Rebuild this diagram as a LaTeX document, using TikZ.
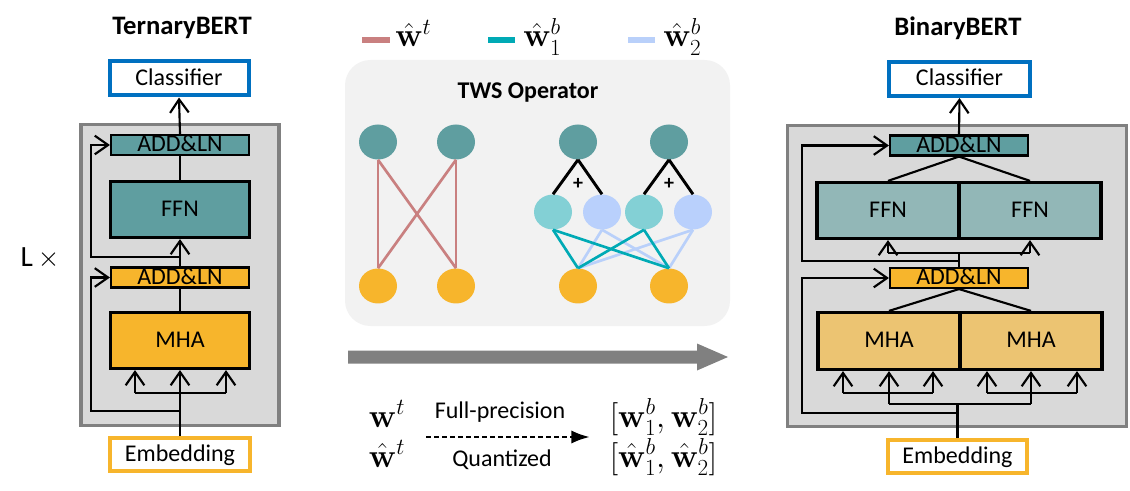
\documentclass[tikz,border=0pt]{standalone}
\usepackage[no-math]{fontspec}
\setmainfont{Carlito}
\usetikzlibrary{arrows.meta,shapes.geometric,calc}
\definecolor{tealA}{HTML}{5F9EA0}
\definecolor{tealB}{HTML}{92B7B7}
\definecolor{orngA}{HTML}{F7B52C}
\definecolor{orngB}{HTML}{ECC472}
\definecolor{boxgray}{HTML}{D9D9D9}
\definecolor{bordgray}{HTML}{808080}
\definecolor{panelgray}{HTML}{F2F2F2}
\definecolor{clsblue}{HTML}{0070C0}
\definecolor{pinkL}{HTML}{C98080}
\definecolor{tealL}{HTML}{00AAB5}
\definecolor{blueL}{HTML}{B9D0FA}
\definecolor{tealN}{HTML}{83D0D5}
\definecolor{blueN}{HTML}{B9D0FC}
\newcommand\myfont{\fontsize{18}{20}\selectfont}
\newcommand\mymath{\fontsize{24}{26}\selectfont}
\begin{document}
\begin{tikzpicture}[x=0.75pt,y=-0.75pt,
  txt/.style={inner sep=0pt, text height=12pt, text depth=2pt, font=\myfont},
  blk/.style={txt, draw=black},
  addbox/.style={blk, line width=1.6pt, minimum width=138*0.75pt, minimum height=20*0.75pt},
  bigbox/.style={blk, line width=2.4pt, minimum width=139*0.75pt, minimum height=56*0.75pt},
  halfbox/.style={blk, line width=2.4pt, minimum width=142*0.75pt, minimum height=57*0.75pt},
  clsbox/.style={txt, draw=clsblue, line width=3pt, fill=white, minimum width=139*0.75pt, minimum height=34*0.75pt},
  embbox/.style={txt, draw=orngA, line width=3pt, fill=white, minimum width=140*0.75pt, minimum height=33*0.75pt},
  graybox/.style={draw=bordgray, fill=boxgray, line width=2.4pt, minimum width=198*0.75pt, minimum height=301*0.75pt, inner sep=0pt},
  title/.style={font=\fontsize{20}{22}\selectfont\bfseries, inner sep=0pt},
  conn/.style={line width=1.6pt, draw=black},
  arr/.style={conn, -{Straight Barb[length=10pt,width=14pt,line width=1.6pt]}},
  dot/.style={ellipse, minimum width=38*0.75pt, minimum height=35*0.75pt, inner sep=0pt},
  mth/.style={font=\mymath, inner sep=0pt, text height=13pt, text depth=3pt},
  wline/.style={line width=2pt}
]
\useasboundingbox (0,0) rectangle (1130,491);

% ================= Left: TernaryBERT =================
\node[title] (titT) at (182,28) {TernaryBERT};
\node[graybox] (grayT) at (180,275) {};
\node[clsbox] (clsT) at (179,78.5) {Classifier};
\node[addbox, fill=tealA] (addT) at (180,145) {ADD\&LN};
\node[bigbox, fill=tealA] (ffnT) at (180,209.5) {FFN};
\node[addbox, fill=orngA] (addOT) at (180,277.5) {ADD\&LN};
\node[bigbox, fill=orngA] (mhaT) at (180,340.5) {MHA};
\node[embbox] (embT) at (180,454.5) {Embedding};
\node[font=\fontsize{22}{24}\selectfont, inner sep=0pt] (LT) at (40,258) {L\,$\times$};

\draw[arr] (addT.north) -- (clsT.south);
\draw[conn] (ffnT.north) -- (addT.south);
\draw[arr] (addOT.north) -- (ffnT.south);
\coordinate (rT1) at (180,257);
\draw[arr] (rT1) -- (91,257) |- (addT.west);
\draw[conn] (mhaT.north) -- (addOT.south);
\coordinate (rT2) at (180,411);
\draw[arr] (rT2) -- (91,411) |- (addOT.west);
\draw[arr] (embT.north) -- (mhaT.south);
\coordinate (qT1) at (135,393);
\coordinate (qT2) at (226,393);
\draw[conn] (qT1) -- (qT2);
\draw[arr] (qT1) -- (qT1 |- mhaT.south);
\draw[arr] (qT2) -- (qT2 |- mhaT.south);

% ================= Middle =================
\draw[pinkL, line width=3.8pt] (362,40) -- (390,40);
\node[mth, anchor=base west] (lgA) at (395,47) {$\hat{\mathbf{w}}^t$};
\draw[tealL, line width=3.8pt] (488,40) -- (515,40);
\node[mth, anchor=base west] (lgB) at (523,47) {$\hat{\mathbf{w}}_1^b$};
\draw[blueL, line width=3.8pt] (628,40) -- (655,40);
\node[mth, anchor=base west] (lgC) at (663,47) {$\hat{\mathbf{w}}_2^b$};

\fill[panelgray, rounded corners=19pt] (345,60) rectangle (730,326);
\node[font=\fontsize{18}{20}\selectfont\bfseries, inner sep=0pt] (tws) at (528,93) {TWS Operator};

\node[dot, fill=tealA] (lt1) at (378,142) {};
\node[dot, fill=tealA] (lt2) at (456,142) {};
\node[dot, fill=orngA] (lb1) at (378,286) {};
\node[dot, fill=orngA] (lb2) at (456,286) {};
\draw[pinkL, wline] (lt1.south) -- (lb1.north);
\draw[pinkL, wline] (lt1.south) -- (lb2.north);
\draw[pinkL, wline] (lt2.south) -- (lb1.north);
\draw[pinkL, wline] (lt2.south) -- (lb2.north);

\node[dot, fill=tealA] (rt1) at (578,142) {};
\node[dot, fill=tealA] (rt2) at (669,142) {};
\node[dot, fill=tealN] (rm1) at (553,212) {};
\node[dot, fill=blueN] (rm2) at (602,212) {};
\node[dot, fill=tealN] (rm3) at (644,212) {};
\node[dot, fill=blueN] (rm4) at (693,212) {};
\node[dot, fill=orngA] (rb1) at (578,286) {};
\node[dot, fill=orngA] (rb2) at (669,286) {};
\draw[line width=2.2pt] (rt1.south) -- (rm1.north);
\draw[line width=2.2pt] (rt1.south) -- (rm2.north);
\draw[line width=2.2pt] (rt2.south) -- (rm3.north);
\draw[line width=2.2pt] (rt2.south) -- (rm4.north);
\node[font=\fontsize{15}{16}\selectfont\bfseries, inner sep=0pt] (pl1) at (578,184) {+};
\node[font=\fontsize{15}{16}\selectfont\bfseries, inner sep=0pt] (pl2) at (669,184) {+};
\draw[blueL, wline] (rm2.south) -- (rb1.north);
\draw[blueL, wline] (rm2.south) -- (rb2.north);
\draw[blueL, wline] (rm4.south) -- (rb1.north);
\draw[blueL, wline] (rm4.south) -- (rb2.north);
\draw[tealL, wline] (rm1.south) -- (rb1.north);
\draw[tealL, wline] (rm1.south) -- (rb2.north);
\draw[tealL, wline] (rm3.south) -- (rb1.north);
\draw[tealL, wline] (rm3.south) -- (rb2.north);

% big gray arrow
\fill[bordgray] (348,350.5) -- (697,350.5) -- (697,343.5) -- (728,357) -- (697,370.5) -- (697,363.5) -- (348,363.5) -- cycle;

% legend of notation
\node[mth, anchor=base] (wt) at (387,427) {$\mathbf{w}^t$};
\node[mth, anchor=base] (wht) at (387,467) {$\hat{\mathbf{w}}^t$};
\node[font=\myfont, inner sep=0pt, anchor=base] (fp) at (500,418) {Full-precision};
\node[font=\myfont, inner sep=0pt, anchor=base] (qz) at (502,466) {Quantized};
\coordinate (dA) at (426,437);
\coordinate (dB) at (590,437);
\draw[line width=2.2pt, dash pattern=on 4pt off 2pt, -{Latex[length=14pt,width=10pt]}] (dA) -- (dB);
\node[mth, anchor=base] (wb) at (663.5,427) {$[\mathbf{w}_1^b, \mathbf{w}_2^b]$};
\node[mth, anchor=base] (whb) at (663.5,467) {$[\hat{\mathbf{w}}_1^b, \hat{\mathbf{w}}_2^b]$};

% ================= Right: BinaryBERT =================
\node[title] (titB) at (958,28) {BinaryBERT};
\node[graybox, minimum width=339*0.75pt] (grayB) at (957,276) {};
\node[clsbox, minimum width=141*0.75pt] (clsB) at (959.5,79) {Classifier};
\node[addbox, fill=tealA] (addB) at (959,145.5) {ADD\&LN};
\node[halfbox, fill=tealB, minimum height=56*0.75pt] (ffnB1) at (888,210.5) {FFN};
\node[halfbox, fill=tealB, minimum height=56*0.75pt] (ffnB2) at (1030,210.5) {FFN};
\node[addbox, fill=orngA] (addOB) at (959,278) {ADD\&LN};
\node[halfbox, fill=orngB] (mhaB1) at (889,341) {MHA};
\node[halfbox, fill=orngB] (mhaB2) at (1031,341) {MHA};
\node[embbox, minimum width=139*0.75pt] (embB) at (957.5,456.5) {Embedding};

\draw[arr] (addB.north) -- (clsB.south);
\draw[conn] (addB.south) -- (ffnB1.north);
\draw[conn] (addB.south) -- (ffnB2.north);
\coordinate (yF) at (0,253);
\coordinate (fB0) at (959,253);
\draw[conn] (addOB.north) -- (fB0);
\draw[conn] (ffnB1.south |- yF) -- (ffnB2.south |- yF);
\draw[arr] (ffnB1.south |- yF) -- (ffnB1.south);
\draw[arr] (ffnB2.south |- yF) -- (ffnB2.south);
\coordinate (rB1) at (959,261);
\draw[arr] (rB1) -- (802,261) |- (addB.west);
\draw[conn] (addOB.south) -- (mhaB1.north);
\draw[conn] (addOB.south) -- (mhaB2.north);
\coordinate (rB2) at (959,413);
\draw[arr] (rB2) -- (802,413) |- (addOB.west);
\coordinate (yM) at (0,404);
\draw[conn] (embB.north) -- (embB.north |- yM);
\draw[conn] (mhaB1.south |- yM) -- (mhaB2.south |- yM);
\coordinate (qB1) at (843,393);
\coordinate (qB2) at (933,393);
\coordinate (qB3) at (987,393);
\coordinate (qB4) at (1077,393);
\draw[conn] (qB1) -- (qB2);
\draw[conn] (qB3) -- (qB4);
\draw[arr] (mhaB1.south |- yM) -- (mhaB1.south);
\draw[arr] (mhaB2.south |- yM) -- (mhaB2.south);
\draw[arr] (qB1) -- (qB1 |- mhaB1.south);
\draw[arr] (qB2) -- (qB2 |- mhaB1.south);
\draw[arr] (qB3) -- (qB3 |- mhaB2.south);
\draw[arr] (qB4) -- (qB4 |- mhaB2.south);
\end{tikzpicture}
\end{document}
